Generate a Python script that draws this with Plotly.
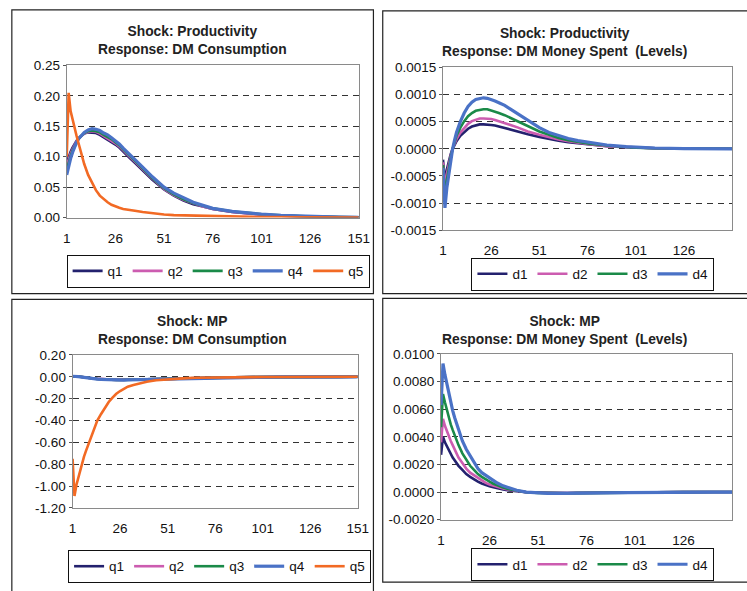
import plotly.graph_objects as go

W, H = 747, 591

periods = [1, 2, 3, 4, 5, 6, 7, 8, 10, 12, 14, 16, 18, 20, 22, 24, 26, 28, 30, 33, 36, 40, 45, 51,
           56, 61, 66, 71, 76, 86, 96, 101, 111, 126, 141, 151]

# ---- Shock: Productivity, Response: DM Consumption
prod_q1 = [0.090, 0.100, 0.108, 0.115, 0.121, 0.126, 0.130, 0.133, 0.138, 0.140, 0.140, 0.139, 0.136, 0.132,
           0.129, 0.125, 0.120, 0.115, 0.108, 0.099, 0.090, 0.077, 0.062, 0.046, 0.036, 0.028, 0.022, 0.018,
           0.014, 0.009, 0.006, 0.005, 0.003, 0.0013, 0.0005, 0.0003]
prod_q2 = [0.085, 0.096, 0.105, 0.112, 0.119, 0.125, 0.129, 0.133, 0.138, 0.141, 0.142, 0.141, 0.138, 0.134,
           0.131, 0.127, 0.122, 0.117, 0.110, 0.101, 0.092, 0.079, 0.064, 0.047, 0.037, 0.029, 0.023, 0.018,
           0.014, 0.009, 0.006, 0.005, 0.003, 0.0013, 0.0005, 0.0003]
prod_q3 = [0.078, 0.091, 0.101, 0.110, 0.117, 0.124, 0.129, 0.133, 0.139, 0.142, 0.143, 0.142, 0.140, 0.136,
           0.133, 0.129, 0.124, 0.119, 0.112, 0.103, 0.094, 0.081, 0.065, 0.048, 0.038, 0.030, 0.024, 0.019,
           0.015, 0.010, 0.0065, 0.0055, 0.0035, 0.0014, 0.0006, 0.0003]
prod_q4 = [0.070, 0.085, 0.097, 0.107, 0.116, 0.123, 0.129, 0.133, 0.140, 0.144, 0.146, 0.145, 0.143, 0.139,
           0.136, 0.131, 0.126, 0.121, 0.114, 0.105, 0.096, 0.083, 0.067, 0.050, 0.040, 0.032, 0.025, 0.020,
           0.015, 0.010, 0.0065, 0.0055, 0.0035, 0.0015, 0.0006, 0.0003]
prod_q5 = [0.100, 0.205, 0.175, 0.160, 0.147, 0.135, 0.123, 0.110, 0.088, 0.070, 0.056, 0.045, 0.036, 0.030,
           0.025, 0.021, 0.018, 0.016, 0.014, 0.012, 0.011, 0.009, 0.007, 0.005, 0.004, 0.0035, 0.003, 0.0025,
           0.002, 0.0015, 0.001, 0.0008, 0.0006, 0.0003, 0.0001, 0.0]

# ---- Shock: Productivity, Response: DM Money Spent (Levels)
prod_d1 = [-0.00020, -0.00062, -0.00038, -0.00022, -0.00010, 0.0, 0.00008, 0.00014, 0.00024, 0.00031, 0.00037,
           0.00041, 0.00043, 0.00045, 0.00045, 0.00045, 0.00044, 0.00043, 0.00041, 0.00039, 0.00036, 0.00032,
           0.00027, 0.00022, 0.00018, 0.00015, 0.00012, 0.00010, 0.00008, 0.00005, 0.00003, 0.00002, 0.00001,
           0.000004, 0.0, 0.0]
prod_d2 = [-0.00025, -0.00072, -0.00047, -0.00028, -0.00013, 0.0, 0.00010, 0.00018, 0.00030, 0.00039, 0.00046,
           0.00051, 0.00054, 0.00056, 0.00056, 0.00056, 0.00055, 0.00053, 0.00051, 0.00048, 0.00044, 0.00039,
           0.00032, 0.00026, 0.00021, 0.00017, 0.00014, 0.00011, 0.00009, 0.00005, 0.00003, 0.00002, 0.00001,
           0.000004, 0.0, 0.0]
prod_d3 = [-0.00030, -0.00088, -0.00058, -0.00035, -0.00016, 0.0, 0.00013, 0.00024, 0.00039, 0.00051, 0.00060,
           0.00066, 0.00070, 0.00072, 0.00073, 0.00073, 0.00071, 0.00069, 0.00066, 0.00062, 0.00057, 0.00050,
           0.00041, 0.00032, 0.00026, 0.00020, 0.00016, 0.00013, 0.00010, 0.00006, 0.00003, 0.00002, 0.00001,
           0.000004, 0.0, 0.0]
prod_d4 = [-0.00035, -0.00109, -0.00072, -0.00045, -0.00021, 0.0, 0.00016, 0.00030, 0.00050, 0.00066, 0.00078,
           0.00086, 0.00091, 0.00093, 0.00094, 0.00093, 0.00091, 0.00088, 0.00085, 0.00080, 0.00073, 0.00064,
           0.00052, 0.00039, 0.00030, 0.00024, 0.00019, 0.00015, 0.00012, 0.00007, 0.00004, 0.00003, 0.000015,
           0.000005, 0.0, 0.0]

# ---- Shock: MP, Response: DM Consumption
mp_q1 = [0.004, 0.005, 0.003, 0.001, 0.0, -0.003, -0.005, -0.007, -0.011, -0.015, -0.018, -0.021, -0.023,
         -0.025, -0.026, -0.027, -0.027, -0.027, -0.026, -0.025, -0.024, -0.022, -0.020, -0.017, -0.014, -0.012,
         -0.010, -0.008, -0.006, -0.004, -0.003, -0.002, -0.0015, -0.001, -0.0005, 0.0]
mp_q2 = [0.004, 0.005, 0.003, 0.001, 0.0, -0.003, -0.005, -0.007, -0.012, -0.016, -0.019, -0.022, -0.024,
         -0.026, -0.027, -0.028, -0.028, -0.028, -0.027, -0.026, -0.025, -0.023, -0.021, -0.018, -0.015, -0.012,
         -0.010, -0.008, -0.006, -0.004, -0.003, -0.002, -0.0015, -0.001, -0.0005, 0.0]
mp_q3 = [0.005, 0.006, 0.004, 0.002, 0.0, -0.003, -0.005, -0.008, -0.012, -0.016, -0.020, -0.023, -0.025,
         -0.027, -0.028, -0.029, -0.029, -0.029, -0.028, -0.027, -0.026, -0.024, -0.021, -0.018, -0.015, -0.013,
         -0.011, -0.009, -0.007, -0.005, -0.003, -0.002, -0.0015, -0.001, -0.0005, 0.0]
mp_q4 = [0.005, 0.006, 0.004, 0.002, 0.0, -0.003, -0.005, -0.008, -0.013, -0.017, -0.021, -0.024, -0.026,
         -0.028, -0.029, -0.030, -0.030, -0.030, -0.029, -0.028, -0.027, -0.025, -0.022, -0.019, -0.016, -0.013,
         -0.011, -0.009, -0.007, -0.005, -0.003, -0.002, -0.0015, -0.001, -0.0005, 0.0]
mp_q5 = [-0.75, -1.09, -0.99, -0.92, -0.85, -0.79, -0.73, -0.68, -0.58, -0.48, -0.40, -0.34, -0.28, -0.23,
         -0.19, -0.155, -0.13, -0.11, -0.09, -0.075, -0.06, -0.045, -0.032, -0.022, -0.016, -0.012, -0.009,
         -0.007, -0.006, -0.004, -0.003, -0.002, -0.0015, -0.001, -0.0005, 0.0]

# ---- Shock: MP, Response: DM Money Spent (Levels)
mp_d1 = [0.0027, 0.0040, 0.0036, 0.0033, 0.0030, 0.0028, 0.0025, 0.0023, 0.0019, 0.0016, 0.0013, 0.0011,
         0.0009, 0.00075, 0.00062, 0.0005, 0.00042, 0.00034, 0.00027, 0.00019, 0.00012, 0.00005, -0.00001,
         -0.00004, -0.00006, -0.00007, -0.00007, -0.00006, -0.00005, -0.00004, -0.00003, -0.00002, -0.00002,
         -0.00001, 0.0, 0.0]
mp_d2 = [0.0036, 0.0053, 0.0048, 0.0044, 0.0040, 0.0037, 0.0034, 0.0031, 0.0025, 0.0021, 0.0017, 0.0014,
         0.0012, 0.0010, 0.0008, 0.00066, 0.00055, 0.00045, 0.00036, 0.00025, 0.00016, 0.00007, -0.00001,
         -0.00005, -0.00007, -0.00008, -0.00008, -0.00007, -0.00006, -0.00005, -0.00003, -0.00003, -0.00002,
         -0.00001, 0.0, 0.0]
mp_d3 = [0.0047, 0.0071, 0.0065, 0.0059, 0.0054, 0.0049, 0.0045, 0.0041, 0.0034, 0.0028, 0.0023, 0.0019,
         0.0016, 0.0013, 0.0011, 0.0009, 0.00075, 0.0006, 0.00048, 0.00033, 0.00021, 0.00009, -0.00001,
         -0.00006, -0.00008, -0.00009, -0.00009, -0.00008, -0.00007, -0.00005, -0.00004, -0.00003, -0.00002,
         -0.00001, 0.0, 0.0]
mp_d4 = [0.0063, 0.0093, 0.0085, 0.0078, 0.0071, 0.0065, 0.0059, 0.0054, 0.0045, 0.0037, 0.0031, 0.0026,
         0.0021, 0.0017, 0.0014, 0.0012, 0.0010, 0.0008, 0.00065, 0.00045, 0.0003, 0.00013, 0.0, -0.00007,
         -0.0001, -0.0001, -0.0001, -0.00009, -0.00008, -0.00006, -0.00004, -0.00003, -0.00002, -0.00001,
         0.0, 0.0]

x_ticks_full = [1, 26, 51, 76, 101, 126, 151]
x_ticks_cut = [1, 26, 51, 76, 101, 126]

y_ticks_1 = [0.0, 0.05, 0.10, 0.15, 0.20, 0.25]
y_ticks_2 = [-0.0015, -0.0010, -0.0005, 0.0, 0.0005, 0.0010, 0.0015]
y_ticks_3 = [-1.20, -1.00, -0.80, -0.60, -0.40, -0.20, 0.0, 0.20]
y_ticks_4 = [-0.0020, 0.0, 0.0020, 0.0040, 0.0060, 0.0080, 0.0100]

colors = {"1": "#23216e", "2": "#cc5cb0", "3": "#1a8a48", "4": "#4a72c6", "5": "#f26a24"}
FONT = "Liberation Sans, Arial, sans-serif"

panels = [
    dict(title="Shock: Productivity", resp="Response: DM Consumption", prefix="q",
         series=[prod_q1, prod_q2, prod_q3, prod_q4, prod_q5], yt=y_ticks_1, dec=2, xt=x_ticks_full,
         box=(64, 362, 60, 216), frame=(8, 377, 3, 294), legend=(218.5, 271), tcx=192, tcy=34),
    dict(title="Shock: Productivity", resp="Response: DM Money Spent \u00a0(Levels)", prefix="d",
         series=[prod_d1, prod_d2, prod_d3, prod_d4], yt=y_ticks_2, dec=4, xt=x_ticks_cut,
         box=(448, 743, 62, 229), frame=(386.5, 760, 4, 294), legend=(601, 274), tcx=572, tcy=36),
    dict(title="Shock: MP", resp="Response: DM Consumption", prefix="q",
         series=[mp_q1, mp_q2, mp_q3, mp_q4, mp_q5], yt=y_ticks_3, dec=2, xt=x_ticks_full,
         box=(70, 361, 357, 514), frame=(8, 377, 300, 600), legend=(220, 574), tcx=192, tcy=332),
    dict(title="Shock: MP", resp="Response: DM Money Spent \u00a0(Levels)", prefix="d",
         series=[mp_d1, mp_d2, mp_d3, mp_d4], yt=y_ticks_4, dec=4, xt=x_ticks_cut,
         box=(446, 743, 356, 526), frame=(386.5, 760, 299, 590), legend=(601, 572), tcx=572, tcy=332),
]

fig = go.Figure()
layout = dict(width=W, height=H, margin=dict(l=0, r=0, t=0, b=0), paper_bgcolor="white",
              plot_bgcolor="white", font=dict(family=FONT, size=13.5, color="#111"),
              showlegend=True, shapes=[], annotations=[])

for i, p in enumerate(panels, start=1):
    xa = "x" if i == 1 else f"x{i}"
    ya = "y" if i == 1 else f"y{i}"
    lg = "legend" if i == 1 else f"legend{i}"
    for k, ys in enumerate(p["series"], start=1):
        fig.add_trace(go.Scatter(
            x=periods, y=ys, mode="lines", name=f"{p['prefix']}{k}",
            line=dict(color=colors[str(k)], width=3.2 if k == 4 else 2.6),
            xaxis=xa, yaxis=ya, legend=lg, hoverinfo="skip"))
    x0, x1, yt0, yb0 = p["box"]
    xdom = [x0 / W, x1 / W]
    ydom = [1 - yb0 / H, 1 - yt0 / H]
    yt = p["yt"]
    ymin, ymax = yt[0], yt[-1]
    layout[f"xaxis{i if i > 1 else ''}"] = dict(
        domain=xdom, anchor=ya, range=[1, 151], tickvals=p["xt"], ticktext=[str(v) for v in p["xt"]],
        showgrid=False, zeroline=False, showline=True, linecolor="#8a8a8a", linewidth=1, mirror=True,
        ticks="", tickfont=dict(size=13.5, color="#111"), ticklabelstandoff=8)
    layout[f"yaxis{i if i > 1 else ''}"] = dict(
        domain=ydom, anchor=xa, range=[ymin, ymax], tickvals=yt,
        ticktext=[f"{v:.{p['dec']}f}" if abs(v) > 1e-12 else f"{0:.{p['dec']}f}" for v in yt],
        showgrid=True, gridcolor="#333", griddash="6px,5px", gridwidth=1, zeroline=False,
        showline=True, linecolor="#8a8a8a", linewidth=1, mirror=True, ticks="outside", ticklen=3,
        tickcolor="#555", tickfont=dict(size=13.5, color="#111"))
    # zero-crossing category axis with inside tick marks
    pos = ydom[0] + (0 - ymin) / (ymax - ymin) * (ydom[1] - ydom[0])
    layout[f"xaxis{i + 4}"] = dict(
        overlaying=xa, matches=xa, anchor="free", position=pos, range=[1, 151],
        tickvals=[1, 26, 51, 76, 101, 126, 151], showticklabels=False,
        ticks="inside", ticklen=5, tickcolor="#222", showgrid=False, zeroline=False,
        showline=True, linecolor="#222", linewidth=1)
    fx0, fx1, fy0, fy1 = p["frame"]
    layout["shapes"].append(dict(type="rect", xref="paper", yref="paper",
                                 x0=fx0 / W, x1=fx1 / W, y0=1 - fy1 / H, y1=1 - fy0 / H,
                                 line=dict(color="#222", width=1.2), fillcolor="rgba(0,0,0,0)"))
    layout["annotations"].append(dict(
        xref="paper", yref="paper", x=p["tcx"] / W, y=1 - p["tcy"] / H, xanchor="center", yanchor="middle",
        showarrow=False, text=f"<b>{p['title']}</b><br><b>{p['resp']}</b>",
        font=dict(family=FONT, size=13.8, color="#222")))
    lx, ly = p["legend"]
    layout[lg] = dict(orientation="h", x=lx / W, y=1 - ly / H, xanchor="center", yanchor="middle",
                      bordercolor="#111", borderwidth=1, bgcolor="white", itemwidth=30,
                      font=dict(family=FONT, size=13.5, color="#111"), tracegroupgap=0,
                      itemclick=False)

fig.update_layout(**layout)
fig.write_html("out.html", config={"displayModeBar": False},
               post_script="document.body.style.margin='0px';document.body.style.overflow='hidden';"
                           "document.documentElement.style.overflow='hidden';")
